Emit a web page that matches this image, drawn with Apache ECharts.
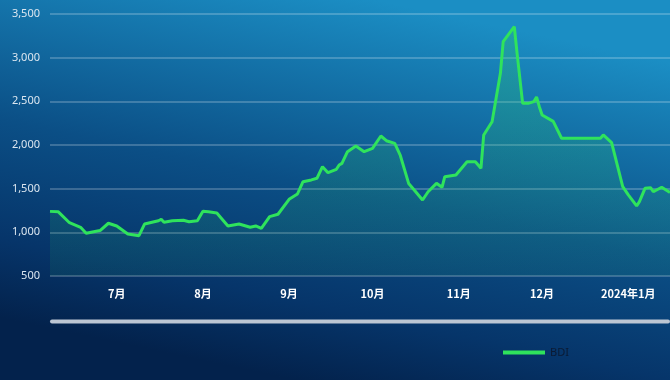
<!DOCTYPE html>
<html>
<head>
<meta charset="utf-8">
<script src="https://cdn.jsdelivr.net/npm/echarts@6/dist/echarts.min.js"></script>
<style>
html,body{margin:0;padding:0;}
#c{width:670px;height:380px;}
</style>
</head>
<body>
<div id="c"></div>
<script>
const dates = [
'2023-06-07','2023-06-10','2023-06-14','2023-06-18','2023-06-20','2023-06-25','2023-06-28',
'2023-07-01','2023-07-05','2023-07-09','2023-07-11','2023-07-16','2023-07-17','2023-07-18',
'2023-07-21','2023-07-25','2023-07-27','2023-07-30','2023-08-01','2023-08-03','2023-08-06',
'2023-08-10','2023-08-14','2023-08-18','2023-08-20','2023-08-22','2023-08-25','2023-08-28',
'2023-09-01','2023-09-04','2023-09-06','2023-09-09','2023-09-11','2023-09-13','2023-09-15',
'2023-09-18','2023-09-19','2023-09-20','2023-09-22','2023-09-25','2023-09-28','2023-10-01',
'2023-10-04','2023-10-06','2023-10-09','2023-10-11','2023-10-14','2023-10-16','2023-10-19',
'2023-10-21','2023-10-24','2023-10-26','2023-10-27','2023-10-31','2023-11-04','2023-11-07',
'2023-11-09','2023-11-10','2023-11-13','2023-11-16','2023-11-17','2023-11-21','2023-11-22',
'2023-11-24','2023-11-26','2023-11-28','2023-11-29','2023-11-30','2023-12-01','2023-12-05',
'2023-12-08','2023-12-22','2023-12-23','2023-12-26','2023-12-30','2024-01-01','2024-01-04',
'2024-01-05','2024-01-07','2024-01-09','2024-01-10','2024-01-13','2024-01-16'
];
const bdi = [
1240,1235,1110,1058,990,1020,1104,
1073,981,962,1095,1133,1149,1115,
1133,1138,1122,1133,1241,1236,1222,
1073,1095,1058,1073,1046,1180,1207,
1378,1439,1580,1600,1619,1752,1683,
1722,1771,1790,1924,1989,1924,1962,
2103,2049,2019,1880,1560,1485,1370,
1465,1561,1516,1637,1657,1809,1809,
1733,2115,2267,2821,3183,3355,3050,
2477,2477,2496,2550,2439,2344,2270,
2077,2077,2115,2027,1523,1428,1302,
1351,1504,1512,1465,1516,1455
];
const monthTicks = ['2023-07-01','2023-08-01','2023-09-01','2023-10-01','2023-11-01','2023-12-01','2024-01-01'];
const monthLabels = ['7月','8月','9月','10月','11月','12月','2024年1月'];
const yTicks = {min:500, max:3500, interval:500};

function ts(d){ const p=d.split('-').map(Number); return Date.UTC(p[0],p[1]-1,p[2]); }
const chart = echarts.init(document.getElementById('c'));
const tickTimes = monthTicks.map(ts);
chart.setOption({
  backgroundColor: {
    type:'linear', x:0.56, y:0, x2:0.44, y2:1,
    colorStops:[
      {offset:0, color:'#1b8ec4'},
      {offset:0.5, color:'#0b4f86'},
      {offset:0.8, color:'#06356a'},
      {offset:1, color:'#03224c'}
    ]
  },
  animation:false,
  grid:{left:50, right:0, top:14, bottom:104},
  legend:{
    left:498, top:342, icon:'rect', itemWidth:42, itemHeight:4, itemGap:10,
    textStyle:{color:'#0b1a33', fontSize:11, fontFamily:'Noto Sans'},
    data:['BDI']
  },
  xAxis:{
    type:'value',
    min:ts(dates[0]), max:ts(dates[dates.length-1]),
    axisLine:{show:false}, axisTick:{show:false},
    splitLine:{show:false},
    axisLabel:{
      customValues: tickTimes,
      margin:12,
      color:'#ffffff', fontSize:11, fontWeight:'bold',
      fontFamily:'Noto Sans CJK SC',
      formatter:function(v){
        const i = tickTimes.indexOf(+v);
        return i >= 0 ? monthLabels[i] : '';
      }
    }
  },
  yAxis:{
    type:'value', min:yTicks.min, max:yTicks.max, interval:yTicks.interval,
    axisLine:{show:false}, axisTick:{show:false},
    axisLabel:{color:'#dbe6f0', fontSize:11, margin:10, fontFamily:'Noto Sans',
      formatter:function(v){return v.toLocaleString('en-US');}},
    splitLine:{lineStyle:{color:'rgba(255,255,255,0.28)', width:1.5}}
  },
  graphic:[{
    type:'rect', left:50, top:319.5, shape:{width:620, height:4, r:2},
    style:{fill:'#bcc6d3'}, silent:true
  }],
  series:[{
    name:'BDI', type:'line',
    data: dates.map((d,i)=>[ts(d),bdi[i]]),
    showSymbol:false, symbol:'none',
    lineStyle:{color:'#2fe35c', width:3},
    itemStyle:{color:'#2fe35c'},
    areaStyle:{
      color:{type:'linear', x:0, y:0, x2:0, y2:1,
        colorStops:[{offset:0, color:'rgba(45,200,110,0.45)'},{offset:1, color:'rgba(45,200,110,0.12)'}]}
    }
  }]
});
</script>
</body>
</html>
